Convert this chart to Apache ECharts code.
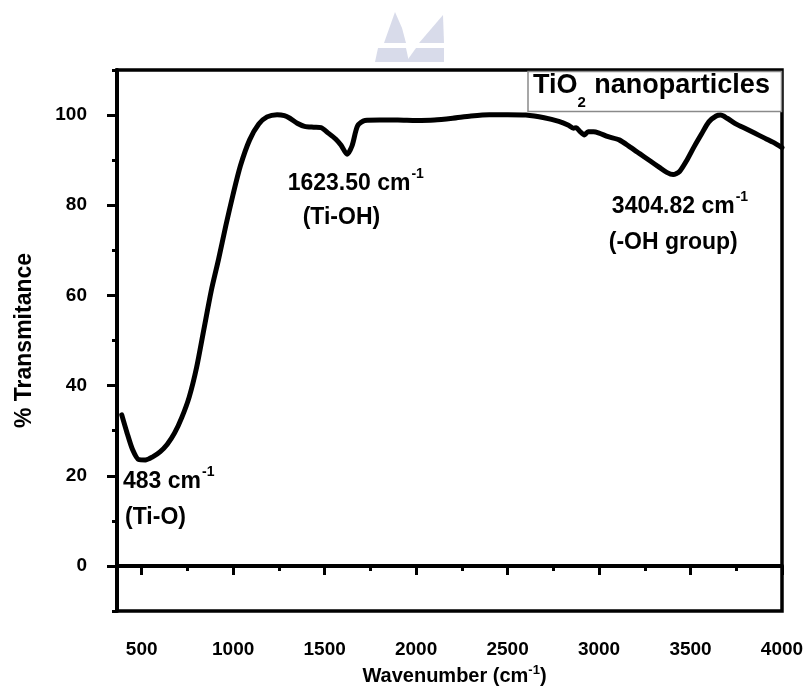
<!DOCTYPE html>
<html><head><meta charset="utf-8">
<script src="https://cdn.jsdelivr.net/npm/echarts@6/dist/echarts.min.js"></script>
<style>html,body{margin:0;padding:0;background:#fff}#c{width:804px;height:694px}</style>
</head><body><div id="c"></div>
<script>
// ---- data ----
const wavenumber = [391,420,450,483,520,560,600,640,680,720,760,800,840,880,920,960,1000,1040,1090,1140,1185,1240,1280,1310,1350,1390,1440,1480,1520,1560,1590,1623,1650,1680,1720,1800,1900,2000,2100,2200,2300,2400,2500,2600,2700,2780,2830,2860,2875,2895,2920,2940,2970,3000,3050,3110,3170,3220,3280,3330,3370,3405,3440,3480,3520,3560,3600,3640,3665,3700,3750,3800,3850,3900,3950,4000];
const transmittance = [33.5,29.5,25.8,23.6,23.5,24.2,25.3,27,29.5,33,37.5,44,52.5,61,68,75.5,82.5,88.8,94.5,98,99.6,100.1,99.9,99.3,98.2,97.5,97.3,97.2,96,94.7,93.3,91.3,93.2,97.6,98.8,98.9,98.9,98.8,98.9,99.3,99.8,100.1,100.1,100,99.4,98.6,97.8,97.1,97.2,96.4,95.6,96.3,96.3,96,95.2,94.5,92.9,91.5,89.8,88.4,87.3,86.8,87.5,90,93,95.8,98.5,99.8,100,99.3,98,97,96,95,94,92.8];
const xMajorTicks = [500,1000,1500,2000,2500,3000,3500,4000];
const xMinorTicks = [750,1250,1750,2250,2750,3250,3750];
const yMajorTicks = [0,20,40,60,80,100];
const yMinorTicks = [-10,10,30,50,70,90,110];
const xRange = [365, 4000];
const yRange = [-10, 110];
const annotations = [
  {x: 1298, y: 84.7, text: '1623.50 cm', sup: '-1'},
  {x: 1380, y: 77.2, text: '(Ti-OH)'},
  {x: 3070, y: 79.6, text: '3404.82 cm', sup: '-1'},
  {x: 3053, y: 71.6, text: '(-OH group)'},
  {x: 398, y: 18.6, text: '483 cm', sup: '-1'},
  {x: 409, y: 10.6, text: '(Ti-O)'}
];
const titleMain = 'TiO', titleSub = '2', titleRest = ' nanoparticles';
const xTitle = 'Wavenumber (cm', yTitle = '% Transmitance';

const FONT = '"Liberation Sans", Arial, sans-serif';
const chart = echarts.init(document.getElementById('c'), null, {renderer: 'canvas'});
const seriesData = wavenumber.map((w, i) => [w, transmittance[i]]);

const tickLabel = {fontFamily: FONT, fontWeight: 'bold', fontSize: 19, color: '#000', formatter: v => String(v)};
chart.setOption({
  animation: false,
  backgroundColor: '#fff',
  grid: {left: 117, right: 22, top: 70, bottom: 83, show: true, borderColor: '#000', borderWidth: 3.5, outerBoundsMode: 'none'},
  xAxis: [
    {type: 'value', min: xRange[0], max: xRange[1], position: 'bottom',
     axisLine: {show: true, lineStyle: {color: '#000', width: 4}},
     axisTick: {show: true, customValues: xMajorTicks, length: 9, lineStyle: {color: '#000', width: 3}},
     axisLabel: {customValues: xMajorTicks, margin: 29, ...tickLabel},
     splitLine: {show: false},
     name: '{a|' + xTitle + '}{s|-1}{a|)}', nameLocation: 'middle', nameGap: 52,
     nameTextStyle: {fontFamily: FONT, fontWeight: 'bold', fontSize: 20, color: '#000', padding: [0, 0, 0, 10],
       rich: {a: {fontFamily: FONT, fontWeight: 'bold', fontSize: 20, color: '#000', lineHeight: 26},
              s: {fontFamily: FONT, fontWeight: 'bold', fontSize: 13, color: '#000', lineHeight: 14, verticalAlign: 'top'}}}},
    {type: 'value', min: xRange[0], max: xRange[1], position: 'bottom',
     axisLine: {show: false},
     axisTick: {show: true, customValues: xMinorTicks, length: 5, lineStyle: {color: '#000', width: 3}},
     axisLabel: {show: false}, splitLine: {show: false}}
  ],
  yAxis: [
    {type: 'value', min: yRange[0], max: yRange[1], position: 'left',
     axisLine: {show: true, lineStyle: {color: '#000', width: 4}},
     axisTick: {show: true, customValues: yMajorTicks, length: 10, lineStyle: {color: '#000', width: 3}},
     axisLabel: {customValues: yMajorTicks, margin: 30, ...tickLabel},
     splitLine: {show: false},
     name: yTitle, nameLocation: 'middle', nameGap: 81,
     nameTextStyle: {fontFamily: FONT, fontWeight: 'bold', fontSize: 23, color: '#000'}},
    {type: 'value', min: yRange[0], max: yRange[1], position: 'left',
     axisLine: {show: false},
     axisTick: {show: true, customValues: yMinorTicks, length: 5, lineStyle: {color: '#000', width: 3}},
     axisLabel: {show: false}, splitLine: {show: false}}
  ],
  series: [{
    type: 'line', xAxisIndex: 0, yAxisIndex: 0, data: seriesData,
    showSymbol: false, smooth: 0.25,
    lineStyle: {color: '#000', width: 5, cap: 'round', join: 'round'}
  }]
});

// ---- text helpers ----
const mctx = document.createElement('canvas').getContext('2d');
function measure(t, size) { mctx.font = 'bold ' + size + 'px ' + FONT; return mctx.measureText(t).width; }
function textEl(t, x, y, size) {
  return {type: 'text', x: x, y: y, z: 100,
    style: {text: t, fontFamily: FONT, fontWeight: 'bold', fontSize: size, fill: '#000',
            align: 'left', verticalAlign: 'middle', textAlign: 'left', textVerticalAlign: 'middle'}};
}
const elements = [];
// watermark
const wm = '#d8dbea';
[
  [[395,12],[384,43],[406,43],[402,28]],
  [[378,48],[406,48],[409,62],[375,62]],
  [[443,15],[444,43],[419,43]],
  [[416,48],[444,48],[444,62],[406,62]]
].forEach(pts => elements.push({type: 'polygon', z: 1, shape: {points: pts}, style: {fill: wm}}));

const ANN = 23, SUP = 14;
annotations.forEach(a => {
  const p = chart.convertToPixel({xAxisIndex: 0, yAxisIndex: 0}, [a.x, a.y]);
  elements.push(textEl(a.text, p[0], p[1], ANN));
  if (a.sup) elements.push(textEl(a.sup, p[0] + measure(a.text, ANN) + 1, p[1] - 10, SUP));
});
// title box
const TS = 27, SS = 15;
const bx = 528, by = 71.5, bw = 781.5 - 528, bh = 40;
elements.push({type: 'rect', z: 90, shape: {x: bx, y: by, width: bw, height: bh}, style: {fill: '#fff', stroke: '#8a8a8a', lineWidth: 1.5}});
let tx = 533; const ty = 86;
elements.push(textEl(titleMain, tx, ty, TS)); tx += measure(titleMain, TS);
elements.push(textEl(titleSub, tx, ty + 17, SS)); tx += measure(titleSub, SS) + 1;
elements.push(textEl(titleRest, tx, ty, TS));

chart.setOption({graphic: {elements: elements}});
</script>
</body></html>
